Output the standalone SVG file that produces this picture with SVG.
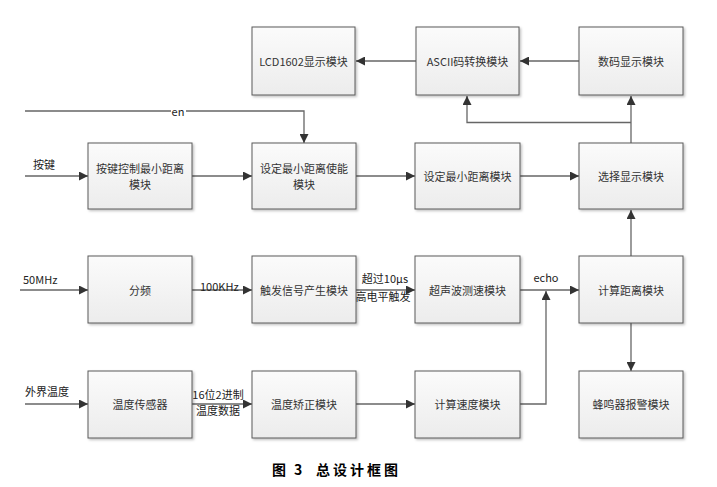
<svg xmlns="http://www.w3.org/2000/svg" width="717" height="487" viewBox="0 0 717 487">
<style>
.box{fill:url(#g);stroke:#5a5a5a;stroke-width:1;filter:url(#sh)}
.t{font-family:"Noto Sans CJK SC","Liberation Sans",sans-serif;font-size:11px;fill:#333;text-anchor:middle;dominant-baseline:central}
.l{font-family:"Noto Sans CJK SC","Liberation Sans",sans-serif;font-size:11px;fill:#222}
.c{fill:none;stroke:#666;stroke-width:1.3}
</style>
<defs>
<linearGradient id="g" x1="0" y1="0" x2="0" y2="1"><stop offset="0" stop-color="#fbfbfb"/><stop offset="1" stop-color="#ececec"/></linearGradient>
<filter id="sh" x="-10%" y="-10%" width="130%" height="130%"><feDropShadow dx="1.5" dy="1.5" stdDeviation="1" flood-color="#000" flood-opacity="0.25"/></filter>
<marker id="a" viewBox="0 0 10 10" refX="10" refY="5" markerWidth="9" markerHeight="9" markerUnits="userSpaceOnUse" orient="auto"><path d="M0,0L10,5L0,10z" fill="#333"/></marker>
</defs>
<rect width="717" height="487" fill="#fff"/>
<g id="connectors">
<path class="c" d="M579,61H520" marker-end="url(#a)"/>
<path class="c" d="M416,61H356" marker-end="url(#a)"/>
<path class="c" d="M631,143V96" marker-end="url(#a)"/>
<path class="c" d="M631,122.5H467V96" marker-end="url(#a)"/>
<path class="c" d="M25,111H304V143" marker-end="url(#a)"/>
<path class="c" d="M25,176H88" marker-end="url(#a)"/>
<path class="c" d="M192,176H252" marker-end="url(#a)"/>
<path class="c" d="M356,176H415" marker-end="url(#a)"/>
<path class="c" d="M520,176H579" marker-end="url(#a)"/>
<path class="c" d="M631,256V210" marker-end="url(#a)"/>
<path class="c" d="M20,290H88" marker-end="url(#a)"/>
<path class="c" d="M192,290H252" marker-end="url(#a)"/>
<path class="c" d="M356,290H415" marker-end="url(#a)"/>
<path class="c" d="M520,290H579" marker-end="url(#a)"/>
<path class="c" d="M520,404H546V291" marker-end="url(#a)"/>
<path class="c" d="M631,323V371" marker-end="url(#a)"/>
<path class="c" d="M25,404H88" marker-end="url(#a)"/>
<path class="c" d="M192,404H252" marker-end="url(#a)"/>
<path class="c" d="M356,404H415" marker-end="url(#a)"/>
<rect x="171" y="104" width="15" height="13" fill="#fff"/>
<text class="l" x="178" y="111" text-anchor="middle" dominant-baseline="central">en</text>
<text class="l" x="33" y="169">按键</text>
<text class="l" x="23" y="284">50MHz</text>
<text class="l" x="200" y="291">100KHz</text>
<text class="l" x="385" y="283" text-anchor="middle">超过10μs</text>
<text class="l" x="383" y="301" text-anchor="middle">高电平触发</text>
<text class="l" x="546" y="282" text-anchor="middle">echo</text>
<text class="l" x="25" y="396">外界温度</text>
<text class="l" x="218" y="399" text-anchor="middle">16位2进制</text>
<text class="l" x="218" y="415" text-anchor="middle">温度数据</text>
</g>
<g id="n_lcd"><rect class="box" x="252" y="27" width="103" height="68"/><text class="t" x="303.5" y="61">LCD1602显示模块</text></g>
<g id="n_ascii"><rect class="box" x="416" y="27" width="103" height="68"/><text class="t" x="467.5" y="61">ASCII码转换模块</text></g>
<g id="n_shuma"><rect class="box" x="579" y="27" width="104" height="68"/><text class="t" x="631" y="61">数码显示模块</text></g>
<g id="n_anjian"><rect class="box" x="88" y="143" width="104" height="66"/><text class="t" x="140" y="168">按键控制最小距离</text><text class="t" x="140" y="184">模块</text></g>
<g id="n_shiNeng"><rect class="box" x="252" y="143" width="104" height="66"/><text class="t" x="304" y="168">设定最小距离使能</text><text class="t" x="304" y="184">模块</text></g>
<g id="n_sheding"><rect class="box" x="415" y="143" width="105" height="66"/><text class="t" x="467.5" y="176">设定最小距离模块</text></g>
<g id="n_xuanze"><rect class="box" x="579" y="143" width="104" height="66"/><text class="t" x="631" y="176">选择显示模块</text></g>
<g id="n_fenpin"><rect class="box" x="88" y="256" width="104" height="67"/><text class="t" x="140" y="290">分频</text></g>
<g id="n_chufa"><rect class="box" x="252" y="256" width="104" height="67"/><text class="t" x="304" y="290">触发信号产生模块</text></g>
<g id="n_chaosheng"><rect class="box" x="415" y="256" width="105" height="67"/><text class="t" x="467.5" y="290">超声波测速模块</text></g>
<g id="n_jisuanjuli"><rect class="box" x="579" y="256" width="104" height="67"/><text class="t" x="631" y="290">计算距离模块</text></g>
<g id="n_wendu"><rect class="box" x="88" y="371" width="104" height="67"/><text class="t" x="140" y="404">温度传感器</text></g>
<g id="n_jiaozheng"><rect class="box" x="252" y="371" width="104" height="67"/><text class="t" x="304" y="404">温度矫正模块</text></g>
<g id="n_sudu"><rect class="box" x="415" y="371" width="105" height="67"/><text class="t" x="467.5" y="404">计算速度模块</text></g>
<g id="n_fengming"><rect class="box" x="579" y="371" width="104" height="67"/><text class="t" x="631" y="404">蜂鸣器报警模块</text></g>
<text y="469" dominant-baseline="central" font-family="'Noto Sans CJK SC',sans-serif" font-size="14" font-weight="bold" fill="#000" letter-spacing="3"><tspan x="272">图</tspan><tspan x="294">3</tspan><tspan x="316">总设计框图</tspan></text>
</svg>
